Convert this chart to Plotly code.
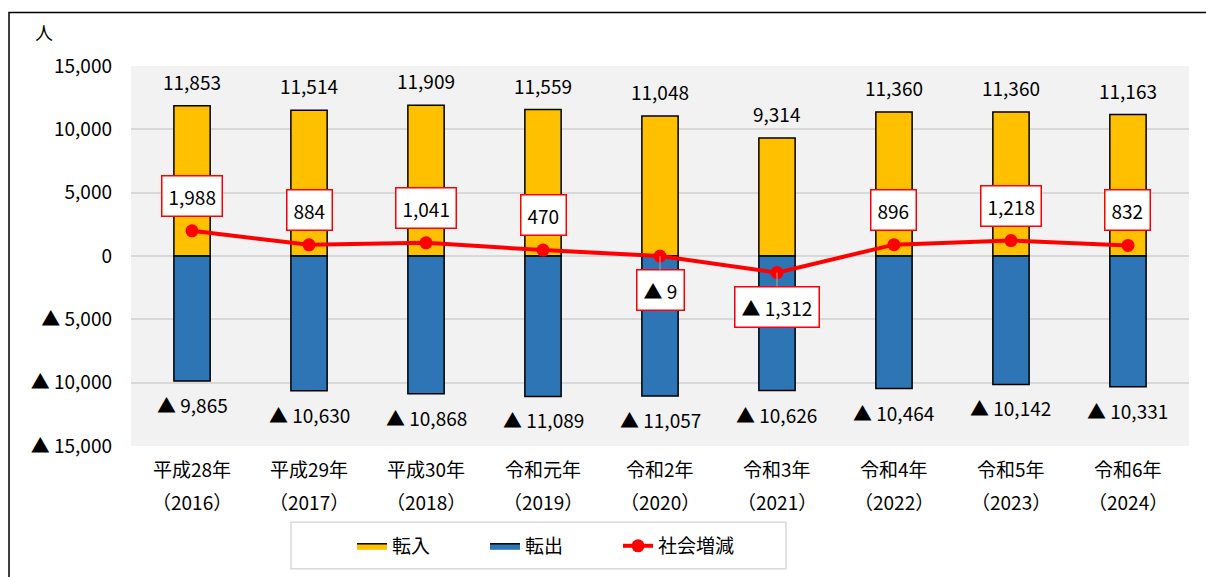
import plotly.graph_objects as go

FONT = "Noto Sans CJK JP"

years = ["平成28年", "平成29年", "平成30年", "令和元年", "令和2年", "令和3年", "令和4年", "令和5年", "令和6年"]
western = ["2016", "2017", "2018", "2019", "2020", "2021", "2022", "2023", "2024"]
inflow = [11853, 11514, 11909, 11559, 11048, 9314, 11360, 11360, 11163]
outflow = [-9865, -10630, -10868, -11089, -11057, -10626, -10464, -10142, -10331]
net = [1988, 884, 1041, 470, -9, -1312, 896, 1218, 832]

y_ticks = [15000, 10000, 5000, 0, -5000, -10000, -15000]

IN_COLOR = "#FFC000"
OUT_COLOR = "#2E75B6"


def fmt(v):
    return f"{v:,}" if v >= 0 else f"▲ {abs(v):,}"


cats = years

fig = go.Figure()
fig.add_trace(go.Bar(
    x=cats, y=inflow, name="転入", showlegend=False,
    marker=dict(color=IN_COLOR, line=dict(color="#000000", width=1.5)),
    width=0.31,
))
fig.add_trace(go.Bar(
    x=cats, y=outflow, name="転出", showlegend=False,
    marker=dict(color=OUT_COLOR, line=dict(color="#000000", width=1.5)),
    width=0.31,
))
# legend-only stand-ins so the bar keys are drawn as wide outlined rectangles
for name, col in [("転入", IN_COLOR), ("転出", OUT_COLOR)]:
    fig.add_trace(go.Scatter(
        x=[None], y=[None], name=name, mode="lines", fill="toself",
        fillcolor=col, line=dict(color="#000000", width=1.5),
    ))
fig.add_trace(go.Scatter(
    x=cats, y=net, name="社会増減", mode="lines+markers",
    line=dict(color="#FF0000", width=4),
    marker=dict(color="#FF0000", size=13),
))

# value labels for bars
for c, v in zip(cats, inflow):
    fig.add_annotation(x=c, y=v, text=fmt(v), showarrow=False, yanchor="bottom", yshift=9,
                       font=dict(size=19, color="#000000"))
for c, v in zip(cats, outflow):
    fig.add_annotation(x=c, y=v, text=fmt(v), showarrow=False, yanchor="top", yshift=-8,
                       font=dict(size=19, color="#000000"))

# boxed labels for the net line (negatives get a thin leader line)
for c, v in zip(cats, net):
    box = dict(font=dict(size=19, color="#000000"), bgcolor="#FFFFFF",
               bordercolor="#FF0000", borderwidth=1.5, borderpad=6)
    if v > 0:
        fig.add_annotation(x=c, y=v, text=fmt(v), showarrow=False, yanchor="bottom", yshift=14, **box)
    else:
        fig.add_annotation(x=c, y=v, text=fmt(v), showarrow=True, arrowhead=0, arrowwidth=1,
                           arrowcolor="#A6A6A6", ax=0, ay=34, **box)

# two-line category labels
for c, y, w in zip(cats, years, western):
    fig.add_annotation(x=c, y=0, yref="paper", text=y, showarrow=False, yanchor="top", yshift=-7,
                       font=dict(size=19, color="#000000"))
    fig.add_annotation(x=c, y=0, yref="paper", text=f"（{w}）", showarrow=False, yanchor="top",
                       yshift=-40, font=dict(size=19, color="#000000"))

fig.add_annotation(xref="paper", yref="paper", x=-0.082, y=1.09, text="人", showarrow=False,
                   font=dict(size=18, color="#000000"), xanchor="center", yanchor="middle")

fig.add_hline(y=0, line=dict(color="#000000", width=1.2), layer="below")

# outer frame and legend frame
fig.add_shape(type="rect", xref="paper", yref="paper", x0=-0.1153, x1=1.2, y0=-0.5, y1=1.1406,
              line=dict(color="#000000", width=1.5))
fig.add_shape(type="rect", xref="paper", yref="paper", x0=0.1512, x1=0.6191, y0=-0.3229, y1=-0.2005,
              line=dict(color="#D9D9D9", width=1.5))

fig.update_layout(
    width=1206, height=577,
    margin=dict(l=131, r=17, t=66, b=127),
    paper_bgcolor="#FFFFFF",
    plot_bgcolor="#F2F2F2",
    barmode="overlay",
    font=dict(family=FONT, size=19, color="#000000"),
    showlegend=True,
    legend=dict(
        orientation="h", x=0.2089, xanchor="left", y=-0.263, yanchor="middle",
        font=dict(size=19), entrywidth=88, entrywidthmode="pixels",
        bgcolor="rgba(0,0,0,0)", traceorder="normal",
    ),
    xaxis=dict(showgrid=False, showticklabels=False, ticks=""),
    yaxis=dict(
        range=[-15000, 15000], tickvals=y_ticks, ticktext=[fmt(v) for v in y_ticks],
        showgrid=True, gridcolor="#D9D9D9", gridwidth=2, zeroline=False,
        tickfont=dict(size=19), ticks="", ticklabelstandoff=18,
    ),
)

fig.write_html("out.html", config={"displayModeBar": False},
               post_script="document.body.style.margin='0';")
